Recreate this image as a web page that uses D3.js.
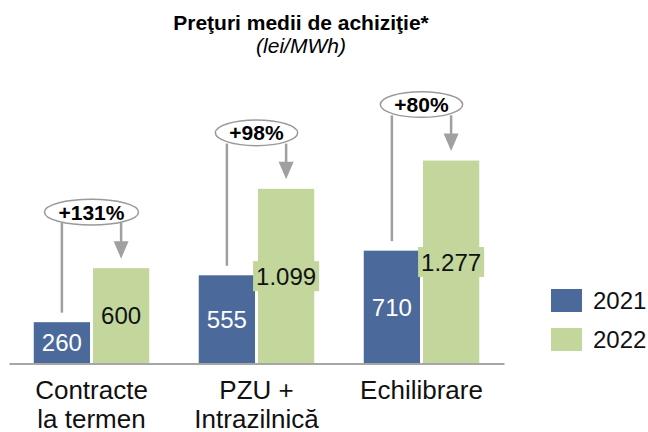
<!DOCTYPE html>
<html>
<head>
<meta charset="utf-8">
<script src="https://cdn.jsdelivr.net/npm/d3@7"></script>
<style>
  body { margin: 0; background: #fff; }
  text { font-family: "Liberation Sans", Arial, sans-serif; }
</style>
</head>
<body>
<svg width="648" height="432"></svg>
<script>
// date
var categories = [["Contracte", "la termen"], ["PZU +", "Intrazilnică"], ["Echilibrare"]];
var years = ["2021", "2022"];
var values2021 = [260, 555, 710];
var values2022 = [600, 1099, 1277];
var colors = ["#4b6a9b", "#c3d69b"];

var svg = d3.select("svg"),
    baseY = 363.5;

var ro = d3.formatLocale({decimal: ",", thousands: ".", grouping: [3], currency: ["", " lei"]});
var fmt = ro.format(",d");

var keys = categories.map(function(c) { return c.join(" "); });

var x = d3.scaleBand()
    .domain(keys)
    .range([9, 504])
    .paddingInner(0.3)
    .paddingOuter(0.15);

var x1 = d3.scaleBand()
    .domain(years)
    .range([0, x.bandwidth()])
    .paddingInner(0.05);

var y = d3.scaleLinear()
    .domain([0, 1400])
    .range([baseY, 141]);

var data = keys.map(function(k, i) {
    return {key: k, lines: categories[i], v: [values2021[i], values2022[i]]};
});

// titlu
svg.append("text")
    .attr("x", 301).attr("y", 30)
    .attr("text-anchor", "middle")
    .style("font-size", "21px").style("font-weight", "bold")
    .text("Preţuri medii de achiziţie*");
svg.append("text")
    .attr("x", 301).attr("y", 53)
    .attr("text-anchor", "middle")
    .style("font-size", "21px").style("font-style", "italic")
    .text("(lei/MWh)");

// bare
var grp = svg.selectAll(".grp")
    .data(data)
  .enter().append("g")
    .attr("class", "grp")
    .attr("transform", function(d) { return "translate(" + x(d.key) + ",0)"; });

grp.selectAll("rect.bar")
    .data(function(d) { return d.v.map(function(v, j) { return {year: years[j], v: v, j: j}; }); })
  .enter().append("rect")
    .attr("class", "bar")
    .attr("x", function(d) { return x1(d.year); })
    .attr("y", function(d) { return y(d.v); })
    .attr("width", x1.bandwidth())
    .attr("height", function(d) { return baseY - y(d.v); })
    .attr("fill", function(d) { return colors[d.j]; });

// etichete valori (cu fundal)
var lab = grp.selectAll("g.lab")
    .data(function(d) { return d.v.map(function(v, j) { return {year: years[j], v: v, j: j}; }); })
  .enter().append("g")
    .attr("class", "lab")
    .attr("transform", function(d) {
        return "translate(" + (x1(d.year) + x1.bandwidth() / 2) + "," + (y(d.v) + baseY) / 2 + ")";
    });
lab.append("rect").attr("fill", function(d) { return colors[d.j]; });
lab.append("text")
    .attr("text-anchor", "middle")
    .attr("dy", "0.36em")
    .style("font-size", "24px")
    .attr("fill", function(d) { return d.j == 0 ? "#fff" : "#111"; })
    .text(function(d) { return fmt(d.v); });
lab.each(function() {
    var g = d3.select(this), w = g.select("text").node().getComputedTextLength();
    g.select("rect").attr("x", -w / 2 - 3).attr("y", -15).attr("width", w + 6).attr("height", 30);
});

// axa
var xAxis = d3.axisBottom(x).tickSize(0).tickSizeOuter(0);
var ax = svg.append("g")
    .attr("transform", "translate(0," + baseY + ")")
    .call(xAxis);
ax.select(".domain").attr("stroke", "#a6a6a6").attr("stroke-width", 2);
ax.selectAll(".tick text").remove();
ax.selectAll(".tick").each(function(k, i) {
    var t = d3.select(this).append("text")
        .attr("text-anchor", "middle")
        .attr("fill", "#111")
        .style("font-size", "26px");
    categories[i].forEach(function(s, n) {
        t.append("tspan").attr("x", 0).attr("y", 35 + n * 29).text(s);
    });
});

// elipse cu procent si sageti
var pct = d3.format("+.0%");
var ann = grp.append("g").attr("class", "ann");
ann.each(function(d) {
    var g = d3.select(this),
        cx = x.bandwidth() / 2,
        bx = x1("2021") + x1.bandwidth() / 2,
        gx = x1("2022") + x1.bandwidth() / 2,
        top = y(d.v[1]),
        cy = top - 56,
        ry = 12.8;
    var t = g.append("text")
        .attr("x", cx).attr("y", cy).attr("dy", "0.36em")
        .attr("text-anchor", "middle")
        .style("font-size", "21px").style("font-weight", "bold")
        .text(pct(d.v[1] / d.v[0] - 1));
    var rx = t.node().getComputedTextLength() / 2 + 14;
    g.insert("ellipse", "text")
        .attr("cx", cx).attr("cy", cy).attr("rx", rx).attr("ry", ry)
        .attr("fill", "#fff").attr("stroke", "#999").attr("stroke-width", 1.5);
    g.insert("line", "ellipse")
        .attr("x1", bx).attr("x2", bx)
        .attr("y1", cy + ry - 2).attr("y2", y(d.v[0]) - 9.5)
        .attr("stroke", "#a0a0a0").attr("stroke-width", 2.5);
    g.insert("line", "ellipse")
        .attr("x1", gx).attr("x2", gx)
        .attr("y1", cy + ry - 2).attr("y2", top - 26)
        .attr("stroke", "#a0a0a0").attr("stroke-width", 2.5);
    g.append("path")
        .attr("d", "M" + (gx - 7.5) + "," + (top - 27) + "L" + (gx + 7.5) + "," + (top - 27) + "L" + gx + "," + (top - 9.5) + "Z")
        .attr("fill", "#a0a0a0");
});

// legenda
var leg = svg.selectAll(".leg")
    .data(years)
  .enter().append("g")
    .attr("class", "leg")
    .attr("transform", function(d, i) { return "translate(551," + (289 + i * 39) + ")"; });
leg.append("rect").attr("width", 31).attr("height", 23)
    .attr("fill", function(d, i) { return colors[i]; });
leg.append("text").attr("x", 42).attr("y", 11.5).attr("dy", "0.36em")
    .style("font-size", "24px").attr("fill", "#111")
    .text(function(d) { return d; });
</script>
</body>
</html>
